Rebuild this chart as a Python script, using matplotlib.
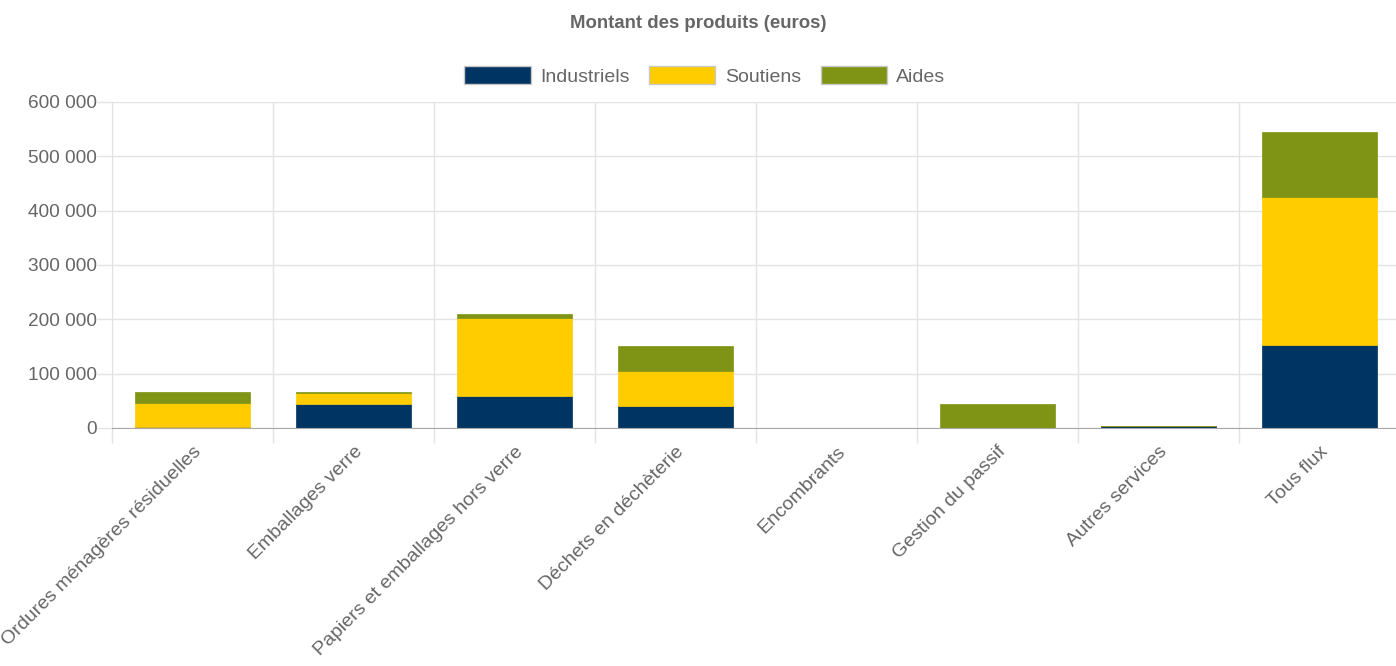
import matplotlib.pyplot as plt
import matplotlib.ticker as mticker
from matplotlib.patches import Patch
import numpy as np

NAVY = '#003462'
YEL = '#FFCC00'
OLV = '#7F9315'
TXT = '#666666'
GRID = '#E3E3E3'

categories = ["Ordures ménagères résiduelles", "Emballages verre",
              "Papiers et emballages hors verre", "Déchets en déchèterie",
              "Encombrants", "Gestion du passif", "Autres services", "Tous flux"]
industriels = [2500, 44200, 58900, 40500, 0, 0, 3000, 152800]
soutiens = [43500, 20800, 143600, 65000, 0, 0, 500, 272900]
aides = [20000, 1000, 7300, 46000, 0, 44200, 0, 119700]
series_names = ["Industriels", "Soutiens", "Aides"]

plt.rcParams['font.family'] = ['Liberation Sans', 'DejaVu Sans']

fig = plt.figure(figsize=(13.96, 6.66), dpi=100)
ax = fig.add_axes([112/1396, 1 - 428/666, (1400 - 112)/1396, (428 - 102)/666])

x = np.arange(len(categories))
w = 0.72
bottom = np.zeros(len(categories))
handles = []
for vals, col, name in zip([industriels, soutiens, aides], [NAVY, YEL, OLV], series_names):
    ax.bar(x, vals, w, bottom=bottom, color=col, zorder=3,
           edgecolor=col, linewidth=0.5)
    bottom += np.array(vals)
    handles.append(Patch(facecolor=col, edgecolor='#C8C8C8', linewidth=1, label=name))

ax.set_xlim(-0.5, len(categories) - 0.5)
ax.set_ylim(0, 600000)
ax.yaxis.set_major_locator(mticker.MultipleLocator(100000))
ax.yaxis.set_major_formatter(mticker.FuncFormatter(lambda v, p: f"{int(v):,}".replace(",", " ")))

# gridlines on category boundaries, labels at centres
ax.set_xticks(np.arange(len(categories) + 1) - 0.5, minor=False)
ax.set_xticklabels([])
ax.set_xticks(x, minor=True)
ax.set_xticklabels(categories, minor=True, rotation=45, ha='right',
                   rotation_mode='anchor', fontsize=14, color=TXT)
ax.tick_params(axis='x', which='minor', length=0, pad=11)
ax.tick_params(axis='x', which='major', length=11, color=GRID, width=1)
ax.tick_params(axis='y', length=11, color=GRID, width=1, labelsize=13.7,
               labelcolor=TXT, pad=0)
ax.grid(True, which='major', color=GRID, lw=1, zorder=0)

for s in ['top', 'right']:
    ax.spines[s].set_visible(False)
ax.spines['left'].set_color(GRID)
ax.spines['bottom'].set_color('#A8A8A8')
ax.spines['bottom'].set_zorder(4)

fig.text(0.5, 1 - 23/666, "Montant des produits (euros)", ha='center', va='center',
         fontsize=13.4, fontweight='bold', color=TXT)
fig.legend(handles=handles, loc='center', bbox_to_anchor=(0.505, 1 - 76/666), ncol=3,
           frameon=False, fontsize=14, labelcolor=TXT, handlelength=3.4,
           handleheight=1.05, columnspacing=1.0, handletextpad=0.5)

fig.savefig('out.png', dpi=100, facecolor='white')
